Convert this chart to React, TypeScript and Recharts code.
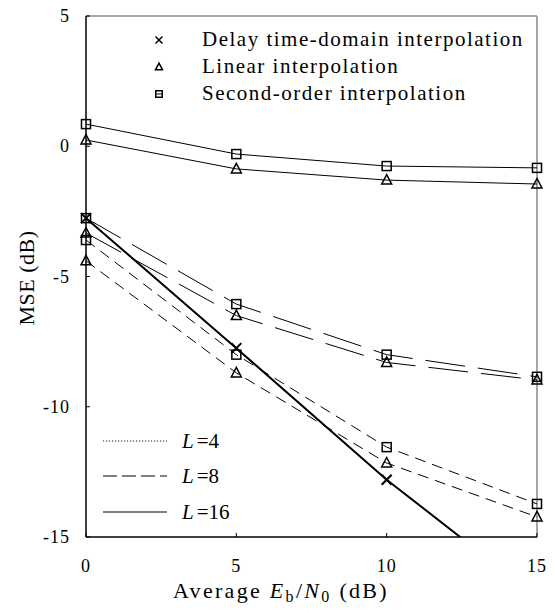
import React from 'react';
import { LineChart, Line, XAxis, YAxis, ReferenceLine, Legend } from 'recharts';

const snr = [0, 5, 10, 15];
const delayL16 = [-2.76, -7.75, -12.8, -17.3];
const secondL16 = [0.85, -0.3, -0.76, -0.83];
const linearL16 = [0.24, -0.87, -1.3, -1.45];
const secondL8 = [-2.76, -6.06, -8.0, -8.85];
const linearL8 = [-3.33, -6.5, -8.3, -8.97];
const secondL4 = [-3.6, -8.0, -11.55, -13.73];
const linearL4 = [-4.4, -8.7, -12.16, -14.23];

const xTicks = [0, 5, 10, 15];
const yTicks = [-15, -10, -5, 0, 5];
const markerLabels = ['Delay time-domain interpolation', 'Linear interpolation', 'Second-order interpolation'];
const lengthLabels = ['4', '8', '16'];

const data = snr.map((s, i) => ({
  snr: s,
  delayL16: delayL16[i],
  secondL16: secondL16[i],
  linearL16: linearL16[i],
  secondL8: secondL8[i],
  linearL8: linearL8[i],
  secondL4: secondL4[i],
  linearL4: linearL4[i],
}));

const FONT = '"Liberation Serif", "Times New Roman", serif';
const Y_MIN = -15;

type Shape = 'square' | 'triangle' | 'cross';

function MarkerShape({ shape, cx, cy, s, sw }: { shape: Shape; cx: number; cy: number; s: number; sw: number }) {
  if (shape === 'square') {
    return <rect x={cx - s / 2} y={cy - s / 2} width={s} height={s} fill="none" stroke="#000" strokeWidth={sw} />;
  }
  if (shape === 'triangle') {
    const h = s * 0.95;
    return (
      <polygon
        points={`${cx},${cy - h * 0.58} ${cx - s / 2},${cy + h * 0.42} ${cx + s / 2},${cy + h * 0.42}`}
        fill="none"
        stroke="#000"
        strokeWidth={sw}
        strokeLinejoin="miter"
      />
    );
  }
  const r = s / 2;
  return (
    <g stroke="#000" strokeWidth={sw}>
      <line x1={cx - r} y1={cy - r} x2={cx + r} y2={cy + r} />
      <line x1={cx - r} y1={cy + r} x2={cx + r} y2={cy - r} />
    </g>
  );
}

const makeDot = (shape: Shape, s: number, sw: number) => (props: any) => {
  const { cx, cy, index, value } = props;
  if (cx == null || cy == null || value == null || value < Y_MIN) return <g key={`d-${index}`} />;
  return (
    <g key={`d-${index}`}>
      <MarkerShape shape={shape} cx={cx} cy={cy} s={s} sw={sw} />
    </g>
  );
};

const XTick = (props: any) => {
  const { x, y, payload } = props;
  return (
    <g>
      <line x1={x} x2={x} y1={y} y2={y - 4} stroke="#000" strokeWidth={1} />
      <text x={x} y={y + 35} textAnchor="middle" fontFamily={FONT} fontSize={18} letterSpacing={1} fill="#000">
        {payload.value}
      </text>
    </g>
  );
};

const YTick = (props: any) => {
  const { x, y, payload } = props;
  return (
    <g>
      <line x1={x} x2={x + 4} y1={y} y2={y} stroke="#000" strokeWidth={1} />
      <text x={x - 16} y={y} textAnchor="end" dominantBaseline="central" fontFamily={FONT} fontSize={18} letterSpacing={1} fill="#000">
        {payload.value}
      </text>
    </g>
  );
};

const LegendContent = () => {
  const shapes: Shape[] = ['cross', 'triangle', 'square'];
  const rowY = [46, 73, 100];
  const lenY = [448, 483, 519];
  const dashes = ['1.2 1.8', '14 5', undefined];
  return (
    <svg width={555} height={613} style={{ position: 'absolute', left: 0, top: 0 }}>
      {markerLabels.map((lab, i) => (
        <g key={lab}>
          <MarkerShape shape={shapes[i]} cx={159} cy={rowY[i] - 6} s={shapes[i] === 'square' ? 6.5 : 7} sw={1.5} />
          {shapes[i] === 'square' && <line x1={155.5} x2={162.5} y1={rowY[i] - 6} y2={rowY[i] - 6} stroke="#000" strokeWidth={1} />}
          <text x={202} y={rowY[i]} fontFamily={FONT} fontSize={21} letterSpacing={1.5} fill="#000">
            {lab}
          </text>
        </g>
      ))}
      {lengthLabels.map((lab, i) => (
        <g key={lab}>
          <line x1={103} x2={167} y1={lenY[i] - 7} y2={lenY[i] - 7} stroke="#000" strokeWidth={i === 0 ? 0.9 : 1.1} strokeDasharray={dashes[i]} />
          <text x={182} y={lenY[i]} fontFamily={FONT} fontSize={21} fill="#000">
            <tspan fontStyle="italic">L</tspan>
            <tspan dx={3}>={lab}</tspan>
          </text>
        </g>
      ))}
    </svg>
  );
};

export default function App() {
  return (
    <div style={{ position: 'absolute', left: 0, top: 0, width: 555, height: 613, background: '#fff' }}>
      <LineChart width={555} height={613} data={data} margin={{ top: 16, right: 18, bottom: 0, left: 0 }}>
        <XAxis
          type="number"
          dataKey="snr"
          domain={[0, 15]}
          ticks={xTicks}
          interval={0}
          height={76}
          tickSize={0}
          tickMargin={0}
          tickLine={false}
          tick={<XTick />}
          axisLine={{ stroke: '#000', strokeWidth: 1.5 }}
          label={{
            content: () => (
              <text x={281} y={598} textAnchor="middle" fontFamily={FONT} fontSize={22} letterSpacing={2.3} fill="#000">
                <tspan>Average </tspan>
                <tspan fontStyle="italic">E</tspan>
                <tspan dy={4} fontSize={16}>b</tspan>
                <tspan dy={-4}>/</tspan>
                <tspan fontStyle="italic">N</tspan>
                <tspan dy={4} fontSize={16}>0</tspan>
                <tspan dy={-4}> (dB)</tspan>
              </text>
            ),
          }}
        />
        <YAxis
          type="number"
          domain={[-15, 5]}
          ticks={yTicks}
          interval={0}
          allowDataOverflow
          width={86}
          tickSize={0}
          tickMargin={0}
          tickLine={false}
          tick={<YTick />}
          axisLine={{ stroke: '#000', strokeWidth: 1.5 }}
          label={{
            content: () => (
              <text
                x={26}
                y={278}
                transform="rotate(-90 26 278)"
                textAnchor="middle"
                dominantBaseline="central"
                fontFamily={FONT}
                fontSize={22}
                letterSpacing={0.5}
                fill="#000"
              >
                MSE (dB)
              </text>
            ),
          }}
        />
        <ReferenceLine y={5} stroke="#888" strokeWidth={1.5} />
        <ReferenceLine x={15} stroke="#888" strokeWidth={1.5} />
        <Legend layout="vertical" align="center" verticalAlign="middle" content={<LegendContent />} wrapperStyle={{ position: 'absolute', left: 0, top: 0, width: 555, height: 613, pointerEvents: 'none' }} />
        <Line dataKey="secondL16" stroke="#000" strokeWidth={1} dot={makeDot('square', 9, 1.5)} isAnimationActive={false} />
        <Line dataKey="linearL16" stroke="#000" strokeWidth={1} dot={makeDot('triangle', 10, 1.5)} isAnimationActive={false} />
        <Line dataKey="secondL8" stroke="#000" strokeWidth={1} strokeDasharray="40 13" dot={makeDot('square', 9, 1.5)} isAnimationActive={false} />
        <Line dataKey="linearL8" stroke="#000" strokeWidth={1} strokeDasharray="40 13" dot={makeDot('triangle', 10, 1.5)} isAnimationActive={false} />
        <Line dataKey="secondL4" stroke="#000" strokeWidth={1} strokeDasharray="11 7" dot={makeDot('square', 9, 1.5)} isAnimationActive={false} />
        <Line dataKey="linearL4" stroke="#000" strokeWidth={1} strokeDasharray="11 7" dot={makeDot('triangle', 10, 1.5)} isAnimationActive={false} />
        <Line dataKey="delayL16" stroke="#000" strokeWidth={2} dot={makeDot('cross', 10, 2)} isAnimationActive={false} />
      </LineChart>
    </div>
  );
}
